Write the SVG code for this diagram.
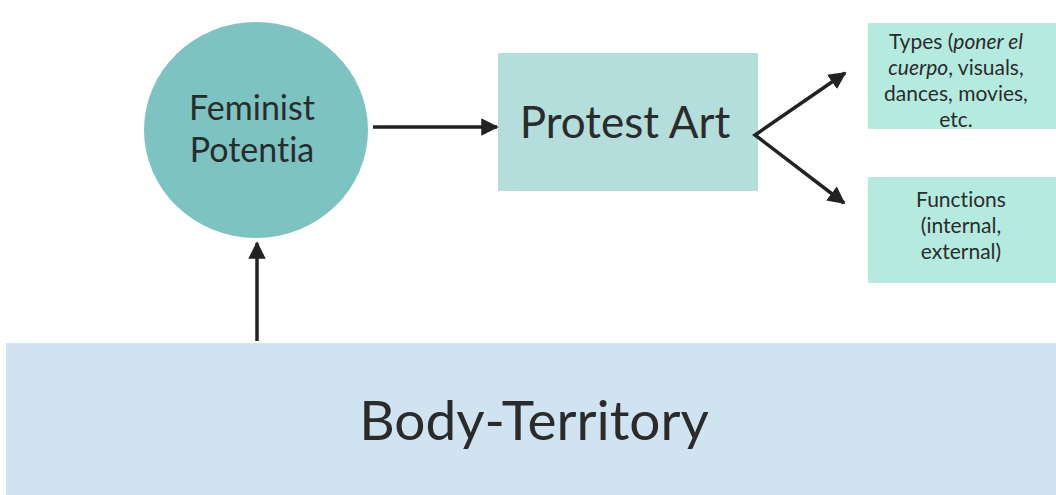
<svg xmlns="http://www.w3.org/2000/svg" width="1056" height="495" viewBox="0 0 1056 495">
<style>
text{font-family:Lato,"Open Sans","Liberation Sans",sans-serif;fill:#2b2b2b;text-anchor:middle;font-variant-ligatures:none}
.con{stroke:#222;stroke-width:3.5;fill:none}
</style>
<defs>
<marker id="ah" viewBox="0 0 10 10" refX="9" refY="5" markerWidth="5" markerHeight="5" orient="auto-start-reverse" markerUnits="strokeWidth">
<path d="M0,0 L10,5 L0,10 z" fill="#222"/>
</marker>
</defs>
<rect width="1056" height="495" fill="#fff"/>
<g id="body-territory">
<rect x="6" y="343" width="1050" height="152" fill="#cfe3f0"/>
<text x="534" y="440" font-size="55">Body-Territory</text>
</g>
<g id="feminist-potentia">
<ellipse cx="256" cy="130" rx="112" ry="108" fill="#7cc3c2"/>
<text x="252" y="120" font-size="34">Feminist</text>
<text x="252" y="162" font-size="34">Potentia</text>
</g>
<g id="protest-art">
<rect x="498" y="53" width="260" height="138" fill="#b3dedc"/>
<text x="625" y="138" font-size="44">Protest Art</text>
</g>
<g id="types">
<rect x="868" y="23" width="188" height="106" fill="#b5ebdf"/>
<text x="956" y="49" font-size="21">Types (<tspan font-style="italic">poner el</tspan></text>
<text x="956" y="75" font-size="21"><tspan font-style="italic">cuerpo</tspan>, visuals,</text>
<text x="956" y="101" font-size="21">dances, movies,</text>
<text x="956" y="127" font-size="21">etc.</text>
</g>
<g id="functions">
<rect x="868" y="177" width="188" height="106" fill="#b5ebdf"/>
<text x="961" y="207" font-size="21">Functions</text>
<text x="961" y="233" font-size="21">(internal,</text>
<text x="961" y="259" font-size="21">external)</text>
</g>
<g id="connectors">
<line class="con" x1="373" y1="127" x2="497" y2="127" marker-end="url(#ah)"/>
<line class="con" x1="257" y1="341" x2="257" y2="243" marker-end="url(#ah)"/>
<path class="con" d="M845,73 L755,135 L844,203" stroke-linejoin="miter" marker-start="url(#ah)" marker-end="url(#ah)"/>
</g>
</svg>
